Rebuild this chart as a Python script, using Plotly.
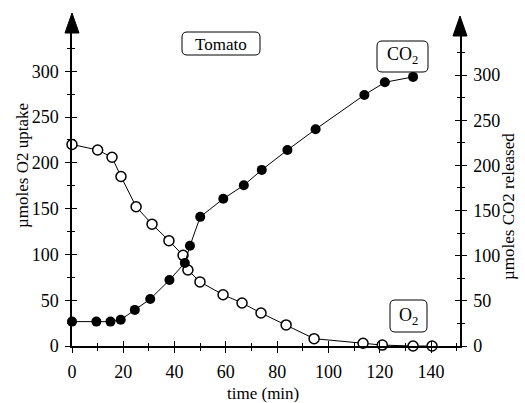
import plotly.graph_objects as go

# ---- data ----
time_o2 = [0, 10, 15.6, 19.1, 25, 31.2, 37.8, 43.3, 45.2, 49.9, 58.9, 66.3, 73.7, 83.5, 94.4, 113.5, 121, 133, 140.4]
o2_uptake = [220, 214, 206, 185, 152, 133, 115, 99, 83, 70, 56, 47, 36, 23, 8, 3, 1, 0, 0]

time_co2 = [0, 9.5, 15, 19, 24.5, 30.5, 38, 44, 46, 50, 59, 67, 74, 84, 95, 114, 122, 133]
co2_released = [27, 27, 27, 29, 40, 52, 73, 92, 111, 143, 163, 178, 195, 217, 240, 278, 292, 298]

x_ticks = [0, 20, 40, 60, 80, 100, 120, 140]
y_ticks = [0, 50, 100, 150, 200, 250, 300]

FONT = "Liberation Serif"
TICKFONT = dict(family=FONT, size=18, color="black")

# plot-area geometry (pixels) used only for placing decorations
L, R, T, B = 72, 460, 33, 346
W, H = R - L, B - T


def px(xp, yp):
    return (xp - L) / W, (B - yp) / H


fig = go.Figure()
fig.add_trace(go.Scatter(
    x=time_o2, y=o2_uptake, mode="lines+markers", yaxis="y",
    line=dict(color="black", width=1),
    marker=dict(symbol="circle", size=10, color="white", line=dict(color="black", width=1.5)),
    showlegend=False, cliponaxis=False))
fig.add_trace(go.Scatter(
    x=time_co2, y=co2_released, mode="lines+markers", yaxis="y2",
    line=dict(color="black", width=1),
    marker=dict(symbol="circle", size=10, color="black"),
    showlegend=False, cliponaxis=False))

xr = [0, 151.3]
yr = [0, 341.7]
y2r = [0, 346.6]

common_axis = dict(showgrid=False, zeroline=False, linecolor="black", linewidth=1.5,
                   tickcolor="black", tickwidth=1.2, tickfont=TICKFONT)

fig.update_layout(
    width=525, height=403,
    margin=dict(l=L, r=525 - R, t=T, b=403 - B),
    paper_bgcolor="white", plot_bgcolor="white",
    font=dict(family=FONT, color="black"),
    xaxis=dict(common_axis, range=xr, showline=True, ticks="outside", ticklen=5,
               tickvals=x_ticks, minor=dict(dtick=10, ticks="outside", ticklen=3, tickcolor="black"),
               ticklabelstandoff=4),
    yaxis=dict(common_axis, range=yr, showline=True, ticks="outside", ticklen=5,
               tickvals=y_ticks, minor=dict(dtick=25, ticks="outside", ticklen=3, tickcolor="black"),
               ticklabelstandoff=3),
    yaxis2=dict(common_axis, range=y2r, showline=True, overlaying="y", side="right", anchor="x",
                ticks="outside", ticklen=5, tickvals=y_ticks,
                minor=dict(dtick=25, ticks="outside", ticklen=3, tickcolor="black"),
                ticklabelstandoff=3),
    # inside halves of the crossing ticks
    xaxis2=dict(range=xr, overlaying="x", anchor="y", side="bottom", showgrid=False, zeroline=False,
                showline=False, ticks="inside", ticklen=5, tickwidth=1.2, tickcolor="black",
                tickvals=x_ticks, showticklabels=False,
                minor=dict(dtick=10, ticks="inside", ticklen=3, tickcolor="black")),
    yaxis3=dict(range=yr, overlaying="y", anchor="x", side="left", showgrid=False, zeroline=False,
                showline=False, ticks="inside", ticklen=5, tickwidth=1.2, tickcolor="black",
                tickvals=y_ticks, showticklabels=False,
                minor=dict(dtick=25, ticks="inside", ticklen=3, tickcolor="black")),
    yaxis4=dict(range=y2r, overlaying="y", anchor="x", side="right", showgrid=False, zeroline=False,
                showline=False, ticks="inside", ticklen=5, tickwidth=1.2, tickcolor="black",
                tickvals=y_ticks, showticklabels=False,
                minor=dict(dtick=25, ticks="inside", ticklen=3, tickcolor="black")),
)

# invisible traces so the overlay tick axes render
fig.add_trace(go.Scatter(x=[None], y=[None], xaxis="x2", yaxis="y3", showlegend=False, hoverinfo="skip", mode="markers"))
fig.add_trace(go.Scatter(x=[None], y=[None], xaxis="x", yaxis="y4", showlegend=False, hoverinfo="skip", mode="markers"))

# axis arrows
fig.add_shape(type="path", xref="paper", yref="paper",
              path="M {} {} L {} {} L {} {} Z".format(*px(L - 7, T), *px(L + 7, T), *px(L, 13)),
              fillcolor="black", line=dict(color="black", width=1))
fig.add_shape(type="path", xref="paper", yref="paper",
              path="M {} {} L {} {} L {} {} Z".format(*px(R - 7, T + 3), *px(R + 7, T + 3), *px(R, 16)),
              fillcolor="black", line=dict(color="black", width=1))


def rounded_box(x0, y0, x1, y1, r=5):
    a = px(x0 + r, y0); b = px(x1 - r, y0); c = px(x1, y0); d = px(x1, y0 + r)
    e = px(x1, y1 - r); f = px(x1, y1); g = px(x1 - r, y1); h = px(x0 + r, y1)
    i = px(x0, y1); j = px(x0, y1 - r); k = px(x0, y0 + r); m = px(x0, y0)
    path = ("M {} {} L {} {} Q {} {} {} {} L {} {} Q {} {} {} {} L {} {} Q {} {} {} {} "
            "L {} {} Q {} {} {} {} Z").format(*a, *b, *c, *d, *e, *f, *g, *h, *i, *j, *k, *m, *a)
    fig.add_shape(type="path", xref="paper", yref="paper", path=path,
                  line=dict(color="black", width=1), fillcolor="white", layer="above")


rounded_box(182, 32, 260, 55)
rounded_box(377, 41, 428, 72)
rounded_box(390, 300, 427, 332)

# axis titles
fig.add_annotation(text="time (min)", xref="paper", yref="paper", x=px(263, 0)[0], y=px(0, 393)[1],
                   showarrow=False, font=dict(family=FONT, size=17), xanchor="center", yanchor="middle")
fig.add_annotation(text="µmoles O2 uptake", xref="paper", yref="paper", x=px(22, 0)[0], y=px(0, 166)[1],
                   showarrow=False, textangle=-90, font=dict(family=FONT, size=17), xanchor="center", yanchor="middle")
fig.add_annotation(text="µmoles CO2 released", xref="paper", yref="paper", x=px(508, 0)[0], y=px(0, 207)[1],
                   showarrow=False, textangle=-90, font=dict(family=FONT, size=17), xanchor="center", yanchor="middle")

# boxed labels
lab = dict(showarrow=False, xref="paper", yref="paper", xanchor="center", yanchor="middle")
fig.add_annotation(lab, text="Tomato", x=px(221, 0)[0], y=px(0, 44)[1], font=dict(family=FONT, size=17))
fig.add_annotation(lab, text="CO<sub>2</sub>", x=px(402, 0)[0], y=px(0, 56)[1], font=dict(family=FONT, size=18))
fig.add_annotation(lab, text="O<sub>2</sub>", x=px(408, 0)[0], y=px(0, 316)[1], font=dict(family=FONT, size=18))

fig.write_html("out.html")
